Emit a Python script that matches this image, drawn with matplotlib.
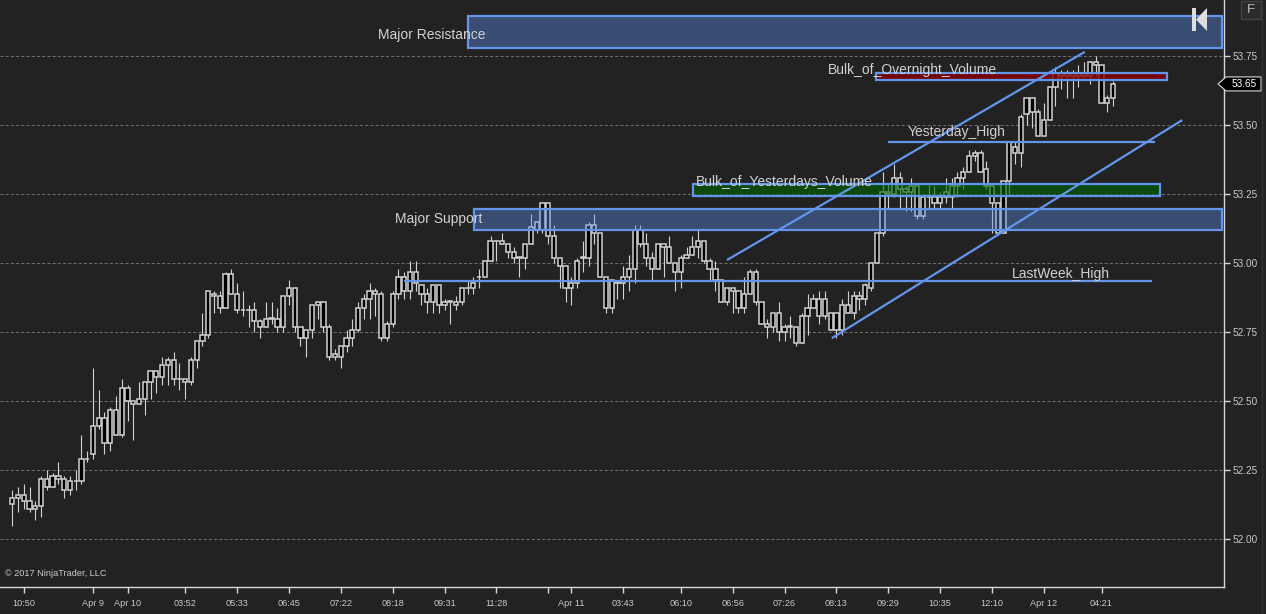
import numpy as np
import matplotlib.pyplot as plt
from matplotlib.patches import Rectangle, Polygon

# bar data (CL, ~23 min bars)
opens = [52.13, 52.16, 52.16, 52.14, 52.11, 52.12, 52.19, 52.19, 52.23, 52.22,
         52.18, 52.21, 52.21, 52.29, 52.31, 52.44, 52.35, 52.47, 52.38, 52.38,
         52.55, 52.49, 52.49, 52.51, 52.57, 52.61, 52.59, 52.63, 52.65, 52.58,
         52.58, 52.57, 52.65, 52.72, 52.74, 52.89, 52.84, 52.84, 52.96, 52.89,
         52.83, 52.83, 52.83, 52.79, 52.77, 52.80, 52.80, 52.77, 52.88, 52.91,
         52.77, 52.73, 52.76, 52.85, 52.86, 52.77, 52.67, 52.66, 52.70, 52.73,
         52.76, 52.84, 52.87, 52.89, 52.89, 52.73, 52.78, 52.89, 52.95, 52.90,
         52.97, 52.92, 52.89, 52.86, 52.92, 52.85, 52.86, 52.86, 52.86, 52.91,
         52.91, 52.95, 52.95, 53.01, 53.08, 53.08, 53.07, 53.04, 53.02, 53.02,
         53.07, 53.12, 53.12, 53.22, 53.10, 53.02, 52.99, 52.91, 52.93, 53.02,
         53.02, 53.14, 53.11, 52.95, 52.84, 52.93, 52.93, 52.95, 52.98, 53.12,
         53.07, 53.02, 52.98, 53.07, 53.06, 53.00, 52.97, 53.02, 53.03, 53.06,
         53.08, 53.01, 52.98, 52.94, 52.86, 52.91, 52.90, 52.84, 52.89, 52.97,
         52.86, 52.78, 52.77, 52.82, 52.75, 52.77, 52.77, 52.71, 52.81, 52.84,
         52.87, 52.81, 52.82, 52.76, 52.76, 52.85, 52.82, 52.87, 52.87, 52.91,
         53.00, 53.11, 53.26, 53.25, 53.31, 53.27, 53.26, 53.28, 53.17, 53.24,
         53.24, 53.22, 53.24, 53.24, 53.28, 53.31, 53.33, 53.39, 53.40, 53.34,
         53.28, 53.22, 53.11, 53.30, 53.42, 53.40, 53.54, 53.60, 53.55, 53.46,
         53.52, 53.64, 53.69, 53.68, 53.69, 53.68, 53.69, 53.68, 53.73, 53.72,
         53.58, 53.60]
highs = [52.18, 52.19, 52.20, 52.19, 52.14, 52.23, 52.25, 52.24, 52.28, 52.23,
         52.23, 52.25, 52.38, 52.32, 52.62, 52.54, 52.46, 52.48, 52.52, 52.58,
         52.56, 52.50, 52.57, 52.57, 52.61, 52.61, 52.66, 52.66, 52.68, 52.64,
         52.58, 52.66, 52.72, 52.82, 52.90, 52.90, 52.90, 52.97, 52.98, 52.93,
         52.90, 52.85, 52.86, 52.80, 52.86, 52.86, 52.84, 52.88, 52.94, 52.91,
         52.77, 52.76, 52.85, 52.86, 52.86, 52.78, 52.69, 52.70, 52.76, 52.80,
         52.86, 52.89, 52.93, 52.91, 52.90, 52.79, 52.90, 52.98, 52.97, 53.01,
         53.01, 52.92, 52.91, 52.92, 52.92, 52.87, 52.86, 52.88, 52.91, 52.94,
         52.95, 52.98, 53.01, 53.10, 53.08, 53.11, 53.07, 53.06, 53.02, 53.07,
         53.18, 53.15, 53.22, 53.22, 53.14, 53.02, 52.99, 52.95, 53.02, 53.08,
         53.15, 53.18, 53.11, 52.95, 52.94, 52.94, 52.99, 53.03, 53.14, 53.14,
         53.11, 53.04, 53.07, 53.07, 53.10, 53.00, 53.03, 53.06, 53.10, 53.12,
         53.08, 53.02, 53.01, 52.94, 52.91, 52.91, 52.90, 52.95, 52.98, 52.98,
         52.86, 52.80, 52.82, 52.86, 52.78, 52.81, 52.77, 52.82, 52.89, 52.89,
         52.90, 52.90, 52.82, 52.82, 52.87, 52.90, 52.90, 52.90, 52.93, 53.00,
         53.11, 53.33, 53.29, 53.36, 53.33, 53.28, 53.31, 53.28, 53.24, 53.29,
         53.28, 53.26, 53.31, 53.31, 53.33, 53.35, 53.41, 53.41, 53.41, 53.37,
         53.28, 53.22, 53.30, 53.44, 53.44, 53.54, 53.60, 53.60, 53.56, 53.58,
         53.64, 53.71, 53.70, 53.70, 53.70, 53.72, 53.73, 53.73, 53.75, 53.72,
         53.61, 53.66]
lows = [52.05, 52.10, 52.11, 52.10, 52.07, 52.08, 52.18, 52.19, 52.20, 52.15,
        52.16, 52.18, 52.20, 52.28, 52.29, 52.40, 52.31, 52.32, 52.38, 52.37,
        52.43, 52.36, 52.49, 52.45, 52.51, 52.53, 52.56, 52.56, 52.56, 52.54,
        52.51, 52.56, 52.62, 52.70, 52.73, 52.82, 52.82, 52.84, 52.89, 52.82,
        52.81, 52.77, 52.75, 52.73, 52.77, 52.78, 52.75, 52.75, 52.85, 52.75,
        52.70, 52.66, 52.73, 52.80, 52.75, 52.65, 52.65, 52.62, 52.68, 52.70,
        52.75, 52.80, 52.80, 52.81, 52.72, 52.72, 52.77, 52.87, 52.87, 52.87,
        52.90, 52.85, 52.82, 52.82, 52.82, 52.83, 52.78, 52.83, 52.85, 52.89,
        52.89, 52.91, 52.95, 53.01, 53.01, 53.07, 53.02, 53.00, 52.95, 52.98,
        53.07, 53.11, 53.11, 53.07, 53.00, 52.91, 52.86, 52.85, 52.91, 52.97,
        52.99, 53.07, 52.95, 52.82, 52.82, 52.87, 52.87, 52.90, 52.93, 53.06,
        52.99, 52.94, 52.98, 52.95, 53.00, 52.90, 52.91, 53.02, 53.03, 53.02,
        53.00, 52.94, 52.90, 52.86, 52.85, 52.82, 52.82, 52.82, 52.89, 52.85,
        52.78, 52.73, 52.75, 52.72, 52.72, 52.73, 52.70, 52.71, 52.74, 52.84,
        52.78, 52.80, 52.76, 52.73, 52.74, 52.82, 52.80, 52.83, 52.85, 52.90,
        53.00, 53.10, 53.20, 53.24, 53.20, 53.19, 53.19, 53.16, 53.16, 53.20,
        53.20, 53.20, 53.22, 53.20, 53.24, 53.27, 53.33, 53.37, 53.33, 53.27,
        53.11, 53.11, 53.11, 53.25, 53.36, 53.35, 53.50, 53.49, 53.46, 53.46,
        53.52, 53.57, 53.63, 53.60, 53.60, 53.64, 53.67, 53.65, 53.68, 53.58,
        53.55, 53.57]
closes = [52.15, 52.15, 52.14, 52.11, 52.12, 52.22, 52.22, 52.23, 52.22, 52.18,
          52.21, 52.21, 52.29, 52.29, 52.41, 52.41, 52.44, 52.35, 52.47, 52.55,
          52.50, 52.50, 52.51, 52.57, 52.61, 52.59, 52.63, 52.65, 52.58, 52.58,
          52.57, 52.65, 52.72, 52.74, 52.90, 52.88, 52.88, 52.96, 52.89, 52.83,
          52.83, 52.83, 52.79, 52.77, 52.80, 52.80, 52.77, 52.88, 52.91, 52.77,
          52.73, 52.76, 52.85, 52.86, 52.77, 52.66, 52.66, 52.70, 52.73, 52.76,
          52.84, 52.87, 52.90, 52.90, 52.73, 52.78, 52.89, 52.95, 52.90, 52.97,
          52.93, 52.89, 52.86, 52.92, 52.85, 52.86, 52.86, 52.85, 52.91, 52.91,
          52.93, 52.95, 53.01, 53.08, 53.08, 53.07, 53.04, 53.02, 53.02, 53.07,
          53.13, 53.15, 53.22, 53.10, 53.02, 52.99, 52.91, 52.93, 53.01, 53.02,
          53.14, 53.11, 52.95, 52.84, 52.94, 52.93, 52.95, 52.98, 53.12, 53.07,
          53.02, 52.98, 53.07, 53.06, 53.00, 52.97, 53.02, 53.03, 53.06, 53.08,
          53.01, 52.98, 52.94, 52.86, 52.91, 52.90, 52.84, 52.89, 52.97, 52.86,
          52.78, 52.77, 52.82, 52.75, 52.77, 52.77, 52.71, 52.81, 52.84, 52.87,
          52.81, 52.87, 52.76, 52.82, 52.85, 52.82, 52.88, 52.88, 52.92, 53.00,
          53.11, 53.26, 53.25, 53.31, 53.27, 53.26, 53.28, 53.17, 53.24, 53.24,
          53.22, 53.24, 53.26, 53.28, 53.31, 53.33, 53.39, 53.40, 53.33, 53.28,
          53.22, 53.11, 53.30, 53.44, 53.40, 53.53, 53.60, 53.55, 53.46, 53.52,
          53.64, 53.69, 53.68, 53.69, 53.68, 53.69, 53.68, 53.73, 53.72, 53.58,
          53.60, 53.65]

time_ticks = [2, 14, 20, 30, 39, 48, 57, 66, 75, 84, 93, 97, 106, 116, 125,
              134, 143, 152, 161, 170, 179, 189]
time_labels = ['10:50', 'Apr 9', 'Apr 10', '03:52', '05:33', '06:45', '07:22',
               '08:18', '09:31', '11:28', '', 'Apr 11', '03:43', '06:10', '06:56',
               '07:26', '08:13', '09:29', '10:35', '12:10', 'Apr 12', '04:21']
price_ticks = [52.00, 52.25, 52.50, 52.75, 53.00, 53.25, 53.50, 53.75]

# drawing objects: (label, start bar, end bar, low, high, fill, alpha, label bar, label price)
zones = [
    ('Major Resistance', 79.1, 209.9, 53.780, 53.896, '#5b8fe8', 0.40, 63.5, 53.827),
    ('Major Support', 80.1, 209.9, 53.121, 53.197, '#5b8fe8', 0.40, 66.4, 53.161),
    ('Bulk_of_Yesterdays_Volume', 118.1, 199.2, 53.244, 53.287, '#006400', 0.60, 118.6, 53.296),
    ('Bulk_of_Overnight_Volume', 149.9, 200.4, 53.664, 53.689, '#8b0000', 0.80, 141.5, 53.702),
]
levels = [
    ('Yesterday_High', 152.1, 198.1, 53.44, 155.4, 53.476),
    ('LastWeek_High', 68.1, 197.6, 52.936, 173.5, 52.962),
]
channel = [
    ((124.0, 53.012), (186.1, 53.766)),
    ((142.2, 52.729), (203.0, 53.519)),
]

BG = '#222222'
FG = '#d2d2d2'
BLUE = '#6495ed'
W, H = 1266, 614

plt.rcParams['font.family'] = ['Liberation Sans', 'DejaVu Sans']

fig = plt.figure(figsize=(W / 100, H / 100), dpi=100, facecolor=BG)
ax = fig.add_axes([0, 27 / H, 1224 / W, 587 / H], facecolor=BG)

# candles
x = np.arange(len(opens))
o = np.array(opens)
c = np.array(closes)
ax.vlines(x, lows, highs, color=FG, lw=0.8, zorder=2)
body_lo = np.minimum(o, c)
body_h = np.maximum(np.abs(c - o), 0.002)
ax.bar(x, body_h, bottom=body_lo, width=0.74, color='#000000', edgecolor=FG,
       linewidth=1.1, zorder=3)

# grid
for p in price_ticks:
    ax.axhline(p, color='#6c6c6c', lw=0.75, ls=(0, (3, 2)), zorder=1)

# zones
for name, x0, x1, lo, hi, col, a, tx, ty in zones:
    ax.add_patch(Rectangle((x0, lo), x1 - x0, hi - lo, facecolor=col, alpha=a,
                           edgecolor='none', zorder=4))
    ax.add_patch(Rectangle((x0, lo), x1 - x0, hi - lo, facecolor='none',
                           edgecolor=BLUE, lw=1.6, zorder=5))
    ax.text(tx, ty, name, color=FG, fontsize=10, va='center', ha='left', zorder=6)

for name, x0, x1, p, tx, ty in levels:
    ax.plot([x0, x1], [p, p], color=BLUE, lw=1.6, zorder=5)
    ax.text(tx, ty, name, color=FG, fontsize=10, va='center', ha='left', zorder=6)

for (x0, y0), (x1, y1) in channel:
    ax.plot([x0, x1], [y0, y1], color=BLUE, lw=1.6, zorder=5,
            solid_capstyle='butt')

ax.set_xlim(-2.13, 210.25)
ax.set_ylim(51.824 + 0.0036, 53.954)

# axes styling
for s in ['top', 'left']:
    ax.spines[s].set_visible(False)
for s in ['right', 'bottom']:
    ax.spines[s].set_color('#d8d8d8')
    ax.spines[s].set_linewidth(1.0)
ax.yaxis.tick_right()
ax.set_yticks(price_ticks, [f'{p:.2f}' for p in price_ticks])
ax.tick_params(axis='y', colors='#d8d8d8', labelcolor='#c8c8c8', length=4.5,
               width=1, pad=2, labelsize=7.2)
ax.set_xticks(time_ticks, time_labels)
ax.tick_params(axis='x', colors='#d8d8d8', labelcolor='#c8c8c8', length=4,
               width=1, pad=5, labelsize=6.6)

# last price marker
last = closes[-1]
tr = ax.get_yaxis_transform()
dy = 7 / 276
ax.add_patch(Polygon([(1218 / 1224, last), (1226 / 1224, last + dy),
                      (1261 / 1224, last + dy), (1261 / 1224, last - dy),
                      (1226 / 1224, last - dy)], closed=True, transform=tr,
                     facecolor='black', edgecolor='#d8d8d8', lw=0.8,
                     clip_on=False, zorder=10))
ax.text(1244 / 1224, last, f'{last:.2f}', transform=tr, color='white',
        fontsize=7.2, ha='center', va='center', clip_on=False, zorder=11)

# overlay for chart chrome
deco = fig.add_axes([0, 0, 1, 1])
deco.set_xlim(0, W)
deco.set_ylim(H, 0)
deco.axis('off')
deco.patch.set_alpha(0)
deco.plot([1262, 1262], [0, H], color='#333333', lw=1)
deco.add_patch(Rectangle((1241, 1), 20, 18, facecolor='#2b2b2b',
                         edgecolor='#444444', lw=1))
deco.text(1251, 10, 'F', color='#bbbbbb', fontsize=9.5, ha='center', va='center')
deco.add_patch(Rectangle((1192, 8), 4, 23, facecolor='#dddddd', edgecolor='none'))
deco.add_patch(Polygon([(1196, 19.5), (1207, 8), (1207, 31)], closed=True,
                       facecolor='#dddddd', edgecolor='none'))
deco.text(5, 573, '\u00a9 2017 NinjaTrader, LLC', color='#cccccc', fontsize=6.6,
          ha='left', va='center')

fig.savefig('out.png', dpi=100, facecolor=BG)
